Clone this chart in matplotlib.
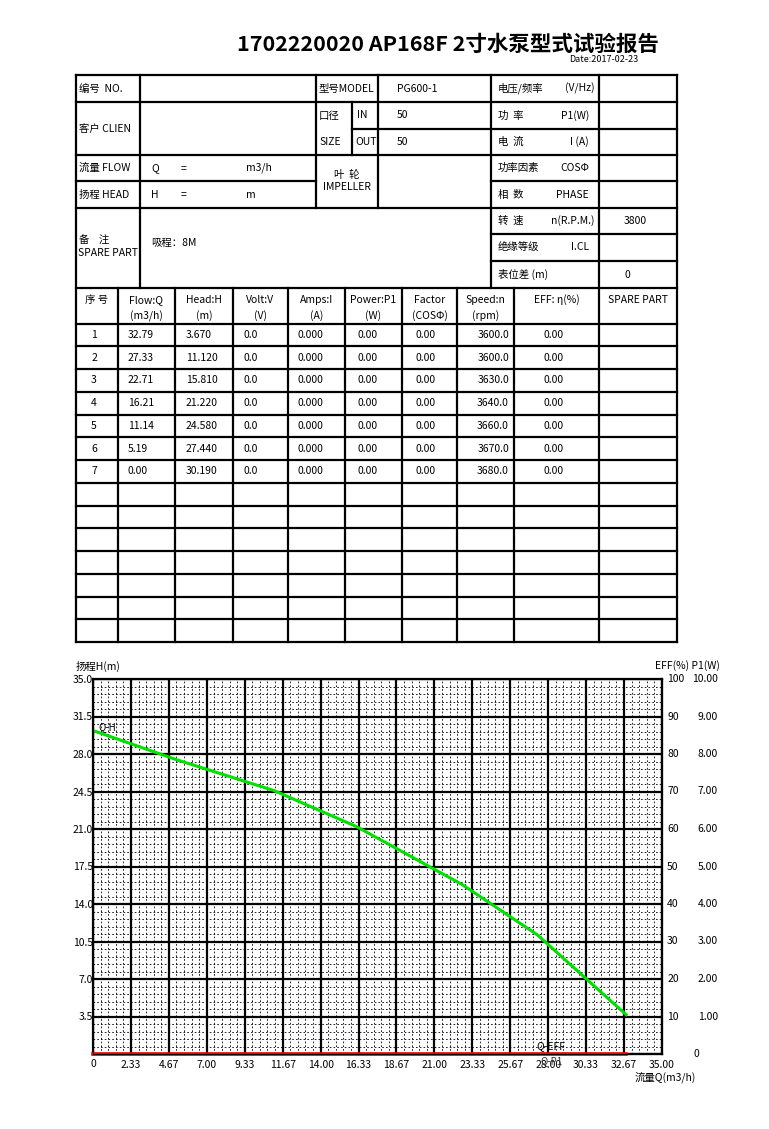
import numpy as np
import matplotlib
matplotlib.use("Agg")
import matplotlib.pyplot as plt
from matplotlib.transforms import blended_transform_factory

plt.rcParams['font.family'] = ['Noto Sans CJK SC', 'DejaVu Sans']

TITLE = "1702220020 AP168F 2寸水泵型式试验报告"
DATE = "Date:2017-02-23"

# test data (table + curves)
row_no = [1, 2, 3, 4, 5, 6, 7]
flow = [32.79, 27.33, 22.71, 16.21, 11.14, 5.19, 0.00]
head = [3.670, 11.120, 15.810, 21.220, 24.580, 27.440, 30.190]
volt = [0.0, 0.0, 0.0, 0.0, 0.0, 0.0, 0.0]
amps = [0.000, 0.000, 0.000, 0.000, 0.000, 0.000, 0.000]
power = [0.00, 0.00, 0.00, 0.00, 0.00, 0.00, 0.00]
factor = [0.00, 0.00, 0.00, 0.00, 0.00, 0.00, 0.00]
speed = [3600.0, 3600.0, 3630.0, 3640.0, 3660.0, 3670.0, 3680.0]
eff = [0.00, 0.00, 0.00, 0.00, 0.00, 0.00, 0.00]

header_top = ["序 号", "Flow:Q", "Head:H", "Volt:V", "Amps:I", "Power:P1",
              "Factor", "Speed:n", "EFF: η(%)", "SPARE PART"]
header_bot = ["", "(m3/h)", "(m)", "(V)", "(A)", "(W)", "(COSΦ)", "(rpm)", "", ""]

# axis ticks
q_ticks = [0, 2.33, 4.67, 7.00, 9.33, 11.67, 14.00, 16.33, 18.67, 21.00,
           23.33, 25.67, 28.00, 30.33, 32.67, 35.00]
h_ticks = [0, 3.5, 7.0, 10.5, 14.0, 17.5, 21.0, 24.5, 28.0, 31.5, 35.0]
eff_ticks = [0, 10, 20, 30, 40, 50, 60, 70, 80, 90, 100]
p1_ticks = [0, 1.0, 2.0, 3.0, 4.0, 5.0, 6.0, 7.0, 8.0, 9.0, 10.0]

W, H = 769, 1129
fig = plt.figure(figsize=(W / 100, H / 100), dpi=100)
ax0 = fig.add_axes([0, 0, 1, 1])
ax0.set_xlim(0, W)
ax0.set_ylim(H, 0)
ax0.axis("off")

LW = 1.6
FS = 7.5


def hl(y, x0, x1):
    ax0.plot([x0, x1], [y, y], color="black", lw=LW, solid_capstyle="projecting")


def vl(x, y0, y1):
    ax0.plot([x, x], [y0, y1], color="black", lw=LW, solid_capstyle="projecting")


def txt(x, y, s, ha="left", fs=FS, **kw):
    ax0.text(x, y, s, ha=ha, va="center", fontsize=fs, **kw)


# title
ax0.text(448, 44, TITLE, ha="center", va="center", fontsize=15.5, fontweight="bold")
ax0.text(638, 59, DATE, ha="right", va="center", fontsize=6.5)

# ---- upper info block ----
L, R = 76, 677
ry = [75, 102, 129, 155, 181, 208, 234, 261, 288]
hl(ry[0], L, R)
hl(ry[1], L, R)
hl(ry[2], 352, R)
hl(ry[3], L, R)
hl(ry[4], L, 316)
hl(ry[4], 491, R)
hl(ry[5], L, R)
hl(ry[6], 491, R)
hl(ry[7], 491, R)
hl(ry[8], L, R)
vl(L, ry[0], 642)
vl(R, ry[0], 642)
vl(140, ry[0], ry[8])
vl(316, ry[0], ry[5])
vl(352, ry[1], ry[3])
vl(378, ry[0], ry[5])
vl(491, ry[0], ry[8])
vl(599, ry[0], ry[8])

rc = [(ry[i] + ry[i + 1]) / 2 for i in range(8)]
txt(79, rc[0], "编号  NO.")
txt(319, rc[0], "型号MODEL")
txt(397, rc[0], "PG600-1")
txt(498, rc[0], "电压/频率")
txt(595, rc[0], "(V/Hz)", ha="right")
txt(79, (rc[1] + rc[2]) / 2, "客户 CLIEN")
txt(319, rc[1], "口径")
txt(319, rc[2], "SIZE")
txt(357, rc[1], "IN")
txt(355, rc[2], "OUT")
txt(397, rc[1], "50")
txt(397, rc[2], "50")
txt(498, rc[1], "功  率")
txt(589, rc[1], "P1(W)", ha="right")
txt(498, rc[2], "电  流")
txt(589, rc[2], "I (A)", ha="right")
txt(79, rc[3], "流量 FLOW")
txt(79, rc[4], "扬程 HEAD")
txt(151, rc[3], "Q")
txt(181, rc[3], "=")
txt(246, rc[3], "m3/h")
txt(151, rc[4], "H")
txt(181, rc[4], "=")
txt(246, rc[4], "m")
txt(347, 175, "叶  轮", ha="center")
txt(347, 187, "IMPELLER", ha="center")
txt(498, rc[3], "功率因素")
txt(589, rc[3], "COSΦ", ha="right")
txt(498, rc[4], "相  数")
txt(589, rc[4], "PHASE", ha="right")
txt(79, 241, "备    注")
txt(78, 253, "SPARE PART")
txt(151, 243, "吸程：8M")
txt(498, rc[5], "转  速")
txt(595, rc[5], "n(R.P.M.)", ha="right")
txt(635, rc[5], "3800", ha="center")
txt(498, rc[6], "绝缘等级")
txt(589, rc[6], "I.CL", ha="right")
txt(498, rc[7], "表位差 (m)")
txt(627, rc[7], "0", ha="center")

# ---- lower data table ----
cols = [76, 118, 175, 233, 288, 345, 402, 457, 514, 599, 677]
head_bottom = 323.5
row_h = 22.75
n_rows = 14
for x in cols[1:-1]:
    vl(x, ry[8], head_bottom + row_h * n_rows)
hl(head_bottom, L, R)
for i in range(1, n_rows + 1):
    hl(head_bottom + row_h * i, L, R)

for j in range(10):
    cx = (cols[j] + cols[j + 1]) / 2
    txt(cx, 300, header_top[j], ha="center")
    if header_bot[j]:
        txt(cx, 316, header_bot[j], ha="center")

for i in range(len(row_no)):
    y = head_bottom + row_h * (i + 0.5)
    txt(94, y, f"{row_no[i]}", ha="center")
    txt(128, y, f"{flow[i]:.2f}")
    txt(186, y, f"{head[i]:.3f}")
    txt(244, y, f"{volt[i]:.1f}")
    txt(298, y, f"{amps[i]:.3f}")
    txt(358, y, f"{power[i]:.2f}")
    txt(415, y, f"{factor[i]:.2f}")
    txt(509, y, f"{speed[i]:.1f}", ha="right")
    txt(543, y, f"{eff[i]:.2f}")

# ---- performance chart ----
px0, px1, py0, py1 = 93, 662, 679, 1054
ax = fig.add_axes([px0 / W, 1 - py1 / H, (px1 - px0) / W, (py1 - py0) / H])
ax.set_xlim(0, 35)
ax.set_ylim(0, 35)

xs_major = np.linspace(0, 35, 16)
ys_major = np.linspace(0, 35, 11)
xs_minor = np.linspace(0, 35, 76)
ys_minor = np.linspace(0, 35, 51)
for x in xs_minor:
    ax.axvline(x, color="black", lw=0.6, ls=(0, (2, 2.5)), zorder=1)
for y in ys_minor:
    ax.axhline(y, color="black", lw=0.6, ls=(0, (2, 2.5)), zorder=1)
for x in xs_major:
    ax.axvline(x, color="black", lw=1.6, zorder=2)
for y in ys_major:
    ax.axhline(y, color="black", lw=1.6, zorder=2)
for s in ax.spines.values():
    s.set_linewidth(1.6)

ax.set_xticks(q_ticks)
ax.set_xticklabels(["" if v == 0 else f"{v:.2f}" for v in q_ticks], fontsize=FS)
ax.set_yticks(h_ticks)
ax.set_yticklabels(["" if v == 0 else f"{v:.1f}" for v in h_ticks], fontsize=FS)
ax.tick_params(axis="x", length=0, pad=4)
ax.tick_params(axis="y", length=0, pad=0)
ax.text(0, -0.9, "0", ha="center", va="center", fontsize=FS, clip_on=False)

# curves
ax.plot(flow, head, color="#00e000", lw=2.2, zorder=5)
ax.plot(flow, power, color="#0000ff", lw=1.0, zorder=5, clip_on=False)
ax.plot(flow, eff, color="#ff0000", lw=2.6, zorder=6, clip_on=False)
ax.text(0.3, 30.5, "Q-H", fontsize=7, va="center", zorder=7)
ax.text(27.3, 0.7, "Q-EFF", fontsize=7.5, va="center", zorder=7)
ax.text(27.5, -0.15, "Q-P1", fontsize=7, va="top", zorder=4, clip_on=False,
        color="#333333")

# right-hand EFF / P1 labels
ax2 = ax.twinx()
ax2.set_ylim(0, 100)
ax2.set_yticks([])
trans = blended_transform_factory(ax2.transAxes, ax2.transData)
for e, p in zip(eff_ticks, p1_ticks):
    if e == 0:
        ax2.text(1.06, e, "0", transform=trans, ha="center", va="center", fontsize=FS)
        continue
    ax2.text(1.009, e, f"{e}", transform=trans, ha="left", va="center", fontsize=FS)
    ax2.text(1.098, e, f"{p:.2f}", transform=trans, ha="right", va="center", fontsize=FS)

ax0.text(76, 666, "扬程H(m)", ha="left", va="center", fontsize=FS)
ax0.text(720, 666, "EFF(%) P1(W)", ha="right", va="center", fontsize=FS)
ax0.text(696, 1077, "流量Q(m3/h)", ha="right", va="center", fontsize=FS)

fig.savefig("out.png", dpi=100)
